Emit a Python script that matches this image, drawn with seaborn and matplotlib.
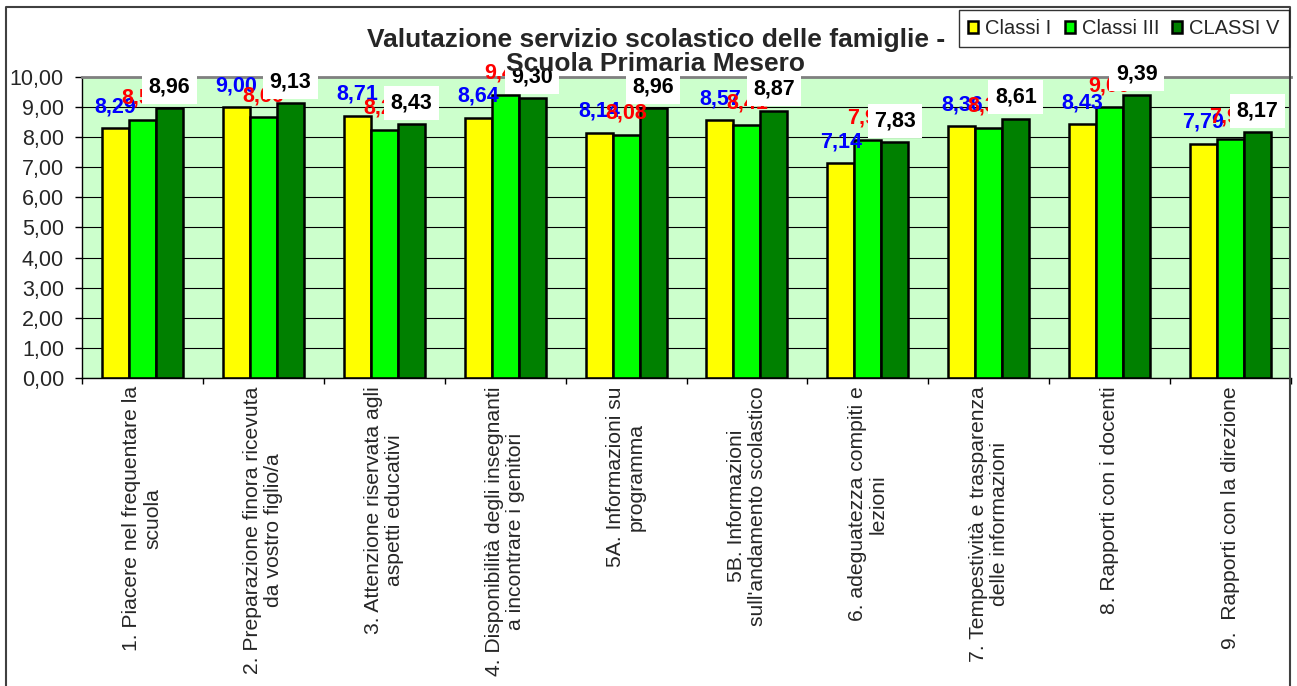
import numpy as np
import pandas as pd
import matplotlib
matplotlib.use("Agg")
import matplotlib.pyplot as plt
import seaborn as sns
from matplotlib.lines import Line2D
from matplotlib.ticker import FuncFormatter

categories = [
    "1. Piacere nel frequentare la\nscuola",
    "2. Preparazione finora ricevuta\nda vostro figlio/a",
    "3. Attenzione riservata agli\naspetti educativi",
    "4. Disponibilità degli insegnanti\na incontrare i genitori",
    "5A. Informazioni su\nprogramma",
    "5B. Informazioni\nsull'andamento scolastico",
    "6. adeguatezza compiti e\nlezioni",
    "7. Tempestività e trasparenza\ndelle informazioni",
    "8. Rapporti con i docenti",
    "9.  Rapporti con la direzione",
]
series = ["Classi I", "Classi III", "CLASSI V"]
classi_1 = [8.29, 9.00, 8.71, 8.64, 8.14, 8.57, 7.14, 8.36, 8.43, 7.79]
classi_3 = [8.58, 8.66, 8.25, 9.41, 8.08, 8.41, 7.91, 8.32, 9.00, 7.94]
classi_5 = [8.96, 9.13, 8.43, 9.30, 8.96, 8.87, 7.83, 8.61, 9.39, 8.17]
y_ticks = [0, 1, 2, 3, 4, 5, 6, 7, 8, 9, 10]
title = "Valutazione servizio scolastico delle famiglie -\nScuola Primaria Mesero"

colors = ["#FFFF00", "#00FF00", "#008000"]
label_colors = ["#0000FF", "#FF0000", "#000000"]

sns.set_style("white")
plt.rcParams["font.family"] = ["Liberation Sans", "DejaVu Sans"]

df = pd.DataFrame({
    "categoria": categories * 3,
    "serie": np.repeat(series, len(categories)),
    "valore": classi_1 + classi_3 + classi_5,
})

W, H = 1297, 686
fig = plt.figure(figsize=(W / 100, H / 100), dpi=100)
ax = fig.add_axes([82 / W, 1 - 378 / H, (1291 - 82) / W, (378 - 77) / H])
ax.set_facecolor("#CCFFCC")

sns.barplot(data=df, x="categoria", y="valore", hue="serie", hue_order=series,
            order=categories, palette=colors, saturation=1, width=0.67,
            edgecolor="black", linewidth=1.8, errorbar=None, ax=ax)

ax.get_legend().remove()
ax.set_xlabel("")
ax.set_ylabel("")
ax.set_ylim(0, 10)
ax.set_xlim(-0.5, len(categories) - 0.5)
ax.set_yticks(y_ticks)
ax.yaxis.set_major_formatter(FuncFormatter(lambda v, p: f"{v:.2f}".replace(".", ",")))
ax.tick_params(axis="y", direction="out", length=5, width=1, pad=8, labelsize=15.5,
               left=True, color="black")
ax.set_xticks(range(len(categories)))
ax.set_xticklabels(categories, rotation=90, fontsize=15.2, va="top", ha="center",
                   linespacing=1.15)
ax.tick_params(axis="x", which="major", length=0, pad=6)
ax.set_xticks(np.arange(-0.5, len(categories), 1), minor=True)
ax.tick_params(axis="x", which="minor", direction="out", length=4, width=1,
               bottom=True, color="black")

ax.yaxis.grid(True, color="black", linewidth=0.8)
ax.xaxis.grid(False)
ax.set_axisbelow(True)

for s in ["left", "bottom"]:
    ax.spines[s].set_color("black")
    ax.spines[s].set_linewidth(1)
ax.spines["top"].set_color("#808080")
ax.spines["top"].set_linewidth(2)
ax.spines["right"].set_visible(False)

values = [classi_1, classi_3, classi_5]
for i, (cont, vals, col) in enumerate(zip(ax.containers, values, label_colors)):
    extra = {}
    if i == 2:
        extra["bbox"] = dict(boxstyle="square,pad=0.3", fc="white", ec="none")
    for bar, v in zip(cont, vals):
        ax.annotate(f"{v:.2f}".replace(".", ","),
                    (bar.get_x() + bar.get_width() / 2, bar.get_height()),
                    xytext=(0, 15.5), textcoords="offset points",
                    ha="center", va="center", fontsize=15.5, fontweight="bold",
                    color=col, clip_on=False, zorder=5 + i, **extra)

fig.text(656 / W, 1 - 52 / H, title, ha="center", va="center", fontsize=19,
         fontweight="bold", linespacing=1.0, zorder=20)

handles, labels = ax.get_legend_handles_labels()
leg = fig.legend(handles, labels, loc="upper left", bbox_to_anchor=(959 / W, 1 - 10 / H),
                 ncol=3, frameon=True, fancybox=False, edgecolor="black",
                 fontsize=14.5, handlelength=0.5, handleheight=0.5, handletextpad=0.35,
                 columnspacing=0.65, borderpad=0.45, borderaxespad=0)
leg.get_frame().set_linewidth(1)

# outer chart frame
fig.add_artist(Line2D([6 / W, 6 / W, 1290 / W, 1290 / W], [0, 1 - 7 / H, 1 - 7 / H, 0],
                      transform=fig.transFigure, color="#404040", linewidth=1.5))

fig.savefig("out.png", dpi=100)
